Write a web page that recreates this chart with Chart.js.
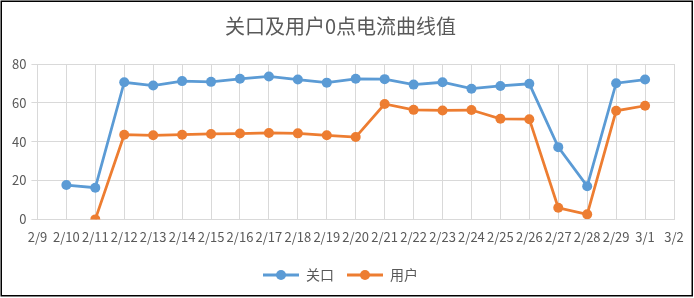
<!DOCTYPE html>
<html>
<head>
<meta charset="utf-8">
<script src="https://cdn.jsdelivr.net/npm/chart.js@4/dist/chart.umd.min.js"></script>
<style>
html,body{margin:0;padding:0;background:#fff;}
#wrap{width:694px;height:298px;position:relative;}
</style>
</head>
<body>
<div id="wrap"><canvas id="c" width="694" height="298"></canvas></div>
<script>
const categories = ['2/9','2/10','2/11','2/12','2/13','2/14','2/15','2/16','2/17','2/18','2/19','2/20','2/21','2/22','2/23','2/24','2/25','2/26','2/27','2/28','2/29','3/1','3/2'];
const gatewayValues = [null,17.7,16.3,70.6,68.9,71.2,70.8,72.4,73.6,72.0,70.4,72.4,72.2,69.4,70.6,67.3,68.7,69.8,37.2,17.1,70.1,72.0,null];
const userValues = [null,null,0,43.6,43.3,43.6,44.0,44.2,44.5,44.3,43.3,42.4,59.4,56.4,56.1,56.3,51.8,51.6,6.0,2.6,55.9,58.5,null];
const yTicks = [0,20,40,60,80];
const seriesNames = ['关口','用户'];
const colors = ['#5B9BD5','#ED7D31'];

function legendIcon(color){
  const cv = document.createElement('canvas');
  cv.width = 36; cv.height = 12;
  const g = cv.getContext('2d');
  g.strokeStyle = color; g.lineWidth = 3;
  g.beginPath(); g.moveTo(0,6); g.lineTo(36,6); g.stroke();
  g.fillStyle = color;
  g.beginPath(); g.arc(18,6,5,0,Math.PI*2); g.fill();
  return cv;
}
const icons = colors.map(legendIcon);

const borderPlugin = {
  id:'border',
  afterDraw(chart){
    const ctx = chart.ctx;
    ctx.save();
    ctx.strokeStyle = '#000';
    ctx.lineWidth = 1.5;
    ctx.strokeRect(1.25,1.25,691,294.5);
    ctx.restore();
  }
};

new Chart(document.getElementById('c'), {
  type:'line',
  data:{
    labels: categories,
    datasets:[
      {label:seriesNames[0], data:gatewayValues, borderColor:colors[0], backgroundColor:colors[0], borderWidth:2.75, pointRadius:5, pointHoverRadius:5, pointBackgroundColor:colors[0], pointBorderColor:colors[0], pointBorderWidth:0, spanGaps:false, tension:0},
      {label:seriesNames[1], data:userValues, borderColor:colors[1], backgroundColor:colors[1], borderWidth:2.75, pointRadius:5, pointHoverRadius:5, pointBackgroundColor:colors[1], pointBorderColor:colors[1], pointBorderWidth:0, spanGaps:false, tension:0}
    ]
  },
  options:{
    responsive:false,
    animation:false,
    events:[],
    layout:{padding:{left:7,right:20,top:0,bottom:6}},
    plugins:{
      title:{display:true, text:'关口及用户0点电流曲线值', color:'#595959', font:{size:20, family:"'Noto Sans CJK SC', sans-serif", weight:'normal'}, padding:{top:14,bottom:26}},
      legend:{position:'bottom', labels:{usePointStyle:true, pointStyleWidth:36, boxHeight:12, color:'#595959', font:{size:14, family:"'Noto Sans CJK SC', sans-serif"}, padding:13,
        generateLabels(chart){
          return chart.data.datasets.map((d,i)=>({text:d.label, pointStyle:icons[i], fillStyle:colors[i], strokeStyle:colors[i], lineWidth:0, fontColor:'#595959', datasetIndex:i, hidden:false}));
        }}},
      tooltip:{enabled:false}
    },
    scales:{
      x:{
        offset:false,
        grid:{color:'#D9D9D9', drawTicks:false, lineWidth:1},
        border:{color:'#D9D9D9'},
        ticks:{autoSkip:false, maxRotation:0, minRotation:0, color:'#595959', padding:10, font:{size:13, family:"'Noto Sans CJK SC', sans-serif"}}
      },
      y:{
        min:0, max:80,
        afterBuildTicks(axis){ axis.ticks = yTicks.map(v=>({value:v})); },
        grid:{color:'#D9D9D9', tickLength:6, lineWidth:1},
        border:{display:false},
        ticks:{color:'#595959', padding:5, font:{size:13, family:"'Noto Sans CJK SC', sans-serif"}}
      }
    }
  },
  plugins:[borderPlugin]
});
</script>
</body>
</html>
